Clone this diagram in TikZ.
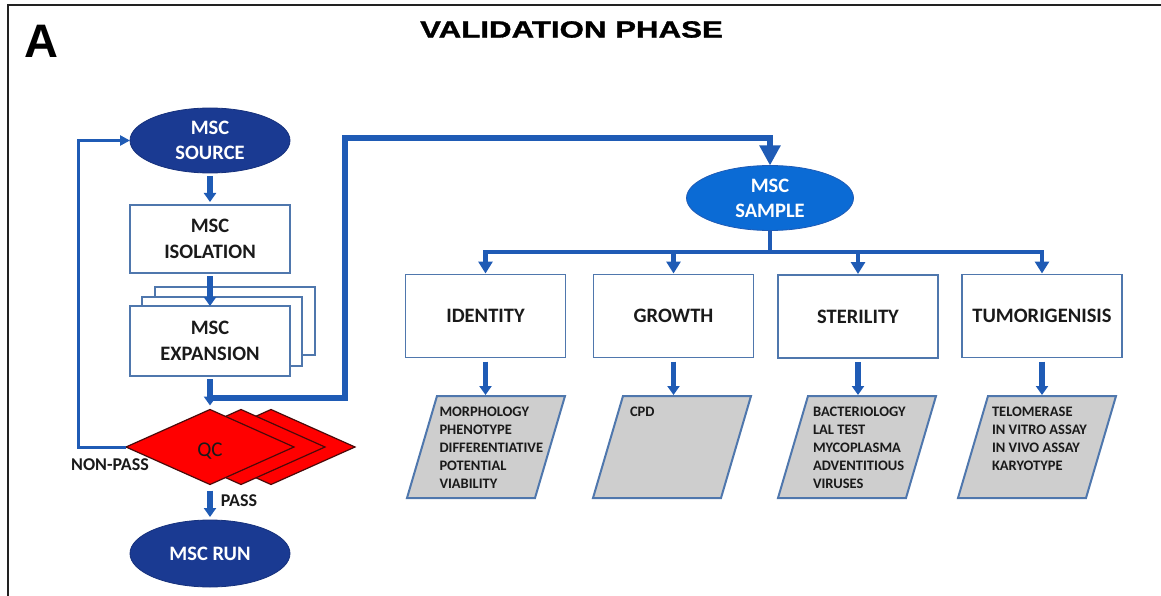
\documentclass[tikz,border=0pt]{standalone}
\usepackage{fontspec}
\setmainfont{Carlito}
\newfontfamily\headfont{Liberation Sans}
\newfontfamily\titlefont[FakeBold=1.2]{Liberation Sans Bold}
\usetikzlibrary{arrows.meta,shapes.geometric}

\definecolor{flowblue}{HTML}{1F5BB5}
\definecolor{boxblue}{HTML}{4F77AD}
\definecolor{navy}{HTML}{1A3A92}
\definecolor{sampleblue}{HTML}{0B6BD5}
\definecolor{qcred}{HTML}{FF0000}
\definecolor{qcedge}{HTML}{4A0A0A}
\definecolor{paragray}{HTML}{CECECE}
\definecolor{textdark}{HTML}{1A1A1A}
\definecolor{framegray}{HTML}{222222}

\begin{document}
\begin{tikzpicture}[
  x=1pt, y=-1pt,
  every node/.style={inner sep=0pt, outer sep=0pt},
  ellnode/.style={ellipse, fill=navy, draw=navy!85!black, line width=0.8pt,
    minimum width=160pt, minimum height=65pt, text=white, align=center,
    font=\bfseries\fontsize{20.5}{25}\selectfont},
  boxnode/.style={rectangle, draw=boxblue, line width=1.8pt, fill=white,
    minimum width=160pt, align=center, text=textdark,
    font=\bfseries\fontsize{20.5}{25.5}\selectfont},
  testbox/.style={boxnode, minimum width=160pt, minimum height=83pt},
  qcnode/.style={diamond, fill=qcred, draw=qcedge, line width=1.2pt,
    minimum width=168pt, minimum height=75pt, text=textdark,
    font=\fontsize{21}{25}\selectfont},
  para/.style={draw=boxblue, fill=paragray, line width=2pt, line join=miter},
  listtext/.style={anchor=base west, text=textdark,
    font=\bfseries\fontsize{14.5}{18}\selectfont},
  flowlabel/.style={text=textdark, font=\bfseries\fontsize{18}{22}\selectfont},
  mainarrow/.style={draw=flowblue, line width=5.5pt,
    -{Triangle[width=12pt,length=9pt]}},
  samplearrow/.style={draw=flowblue, line width=6pt, line join=miter,
    -{Triangle[width=20pt,length=20pt]}},
  branchline/.style={draw=flowblue, line width=4.5pt, line join=miter},
  brancharrow/.style={branchline, -{Triangle[width=14pt,length=12pt]}},
  looparrow/.style={draw=flowblue, line width=3pt, line join=miter,
    -{Triangle[width=10pt,length=10pt]}},
  frameline/.style={draw=framegray, line width=2.5pt}
]
\useasboundingbox (0,0) rectangle (1161,596);

% panel frame
\draw[frameline] (8,600) -- (8,5) -- (1165,5);

% panel letter and heading
\node[font=\headfont\bfseries\fontsize{47}{50}\selectfont] (panel) at (41.5,41) {A};
\node[font=\titlefont\fontsize{23.5}{28}\selectfont] (title) at (571.5,29.5)
  {\scalebox{1.33}[1]{VALIDATION PHASE}};

% production chain
\node[ellnode] (src) at (210,140.5) {MSC\\SOURCE};
\node[boxnode, minimum height=68pt] (iso) at (210,239) {MSC\\ISOLATION};
\node[boxnode, minimum height=68pt] (exp3) at (235,321) {};
\node[boxnode, minimum height=69pt] (exp2) at (222,331.5) {};
\node[boxnode, minimum height=70pt] (exp) at (210,341) {MSC\\EXPANSION};

\node[qcnode] (qc3) at (271,447) {};
\node[qcnode] (qc2) at (241,447) {};
\node[qcnode] (qc) at (210,447) {\raisebox{-9.8pt}[0pt][0pt]{QC}};

\node[ellnode, minimum height=67pt] (run) at (210,553.5) {MSC RUN};

\draw[mainarrow, shorten <=3pt, shorten >=3pt] (src) -- (iso);
\draw[mainarrow, shorten <=3pt, shorten >=0pt] (iso) -- (exp);
\draw[mainarrow, shorten <=3pt, shorten >=4pt] (exp) -- (qc);
\draw[mainarrow, shorten <=6pt, shorten >=3pt] (qc) -- (run);

\node[flowlabel] (pass) at (239,501) {PASS};
\node[flowlabel] (nonpass) at (110,465) {NON-PASS};

% failed QC returns to the source
\coordinate (loop) at (78,140.5);
\draw[looparrow] (qc.west) -| (loop) -- (src.west);

% sample drawn off for validation
\coordinate (tap) at (210,398);
\coordinate (riser) at (345,138.5);
\node[ellnode, fill=sampleblue, draw=flowblue, minimum width=167pt, minimum height=65pt] (smp) at (770,198) {MSC\\SAMPLE};
\draw[samplearrow] (tap) -| (riser) -| (smp.north);

% validation tests
\node[testbox] (ident)  at (485.5,316) {IDENTITY};
\node[testbox] (growth) at (673.5,316) {GROWTH};
\node[testbox] (steril) at (858,316.5) {STERILITY};
\node[testbox] (tumor)  at (1042,316) {TUMORIGENISIS};

\coordinate (split) at (770,252);
\draw[branchline] (smp.south) -- (split);
\foreach \b in {ident,growth,steril,tumor}
  \draw[brancharrow, shorten >=1pt] (split) -| (\b.north);

% assay parallelograms
\foreach \bx in {407,593,778,958}
  \draw[para] (\bx,498) -- ++(128,0) -- ++(30,-102) -- ++(-128,0) -- cycle;

\coordinate (paratop) at (0,395);
\foreach \b in {ident,growth,steril,tumor}
  \draw[mainarrow, shorten <=4pt] (\b.south) -- (\b.south |- paratop);

\node[listtext] (idlist) at (439.5,416.5) {\parbox[t]{140pt}{\raggedright\baselineskip=18pt
  MORPHOLOGY\\PHENOTYPE\\DIFFERENTIATIVE\\POTENTIAL\\VIABILITY}};
\node[listtext] (grlist) at (630,416.5) {\parbox[t]{100pt}{\raggedright\baselineskip=18pt CPD}};
\node[listtext] (stlist) at (813,416.5) {\parbox[t]{140pt}{\raggedright\baselineskip=18pt
  BACTERIOLOGY\\LAL TEST\\MYCOPLASMA\\ADVENTITIOUS\\VIRUSES}};
\node[listtext] (tulist) at (992,416.5) {\parbox[t]{140pt}{\raggedright\baselineskip=18pt
  TELOMERASE\\IN VITRO ASSAY\\IN VIVO ASSAY\\KARYOTYPE}};
\end{tikzpicture}
\end{document}
